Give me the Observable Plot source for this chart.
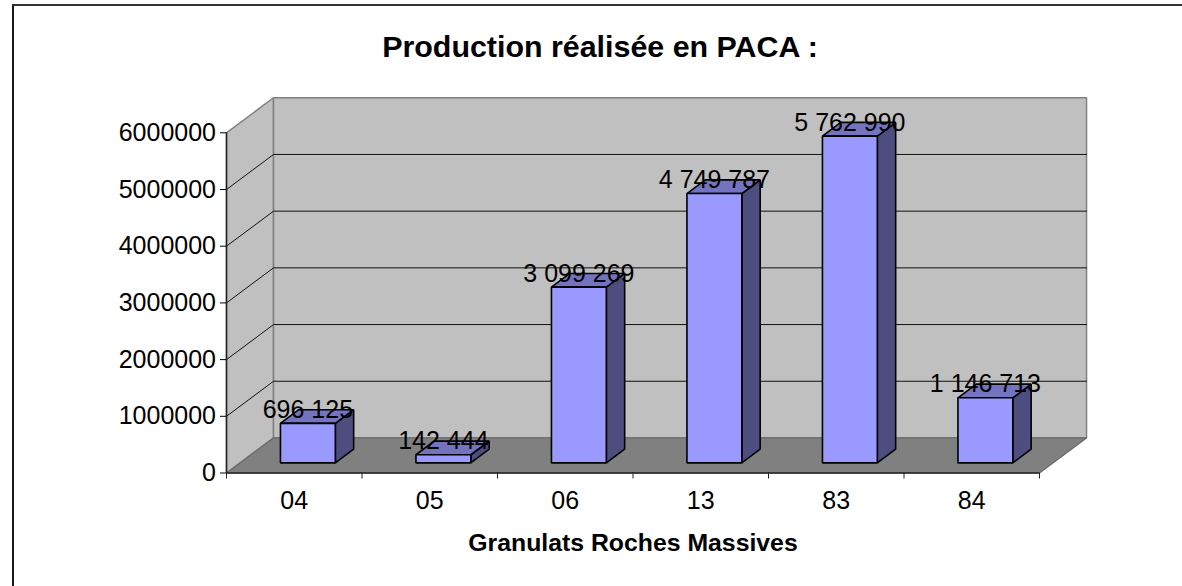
<!DOCTYPE html>
<html>
<head>
<meta charset="utf-8">
<style>
html,body{margin:0;padding:0;background:#fff;overflow:hidden}
#frame{position:absolute;left:12px;top:4px;right:0;bottom:0;border-left:2px solid #1a1a1a;border-top:2px solid #333;pointer-events:none}
svg{display:block}
</style>
<script src="https://cdn.jsdelivr.net/npm/d3@7"></script>
<script src="https://cdn.jsdelivr.net/npm/@observablehq/plot@0.6"></script>
</head>
<body>
<div id="frame"></div>
<div id="chart"></div>
<script>
const categories = ["04","05","06","13","83","84"];
const values = [696125,142444,3099269,4749787,5762990,1146713];
const yTicks = [0,1000000,2000000,3000000,4000000,5000000,6000000];
const gridValues = yTicks.slice(1,-1);
const titleText = "Production réalisée en PACA :";
const xTitle = "Granulats Roches Massives";

// oblique projection: depth z (0 = front plane, 1 = back wall) expressed in data units
const shearX = 0.347, shearY = 618000;
const barWidth = 0.405, zFront = 0.29, zBack = 0.68;
const P = (x,v,z) => ({x:x+z*shearX, y:v+z*shearY});
const poly = (id,pts) => pts.map(([x,v,z]) => ({id,...P(x,v,z)}));
const n = categories.length, maxV = yTicks[yTicks.length-1];

const sideWall = poly("side",[[0,0,0],[0,0,1],[0,maxV,1],[0,maxV,0]]);
const backWall = poly("back",[[0,0,1],[n,0,1],[n,maxV,1],[0,maxV,1]]);
const floorFace = poly("floor",[[0,0,0],[n,0,0],[n,0,1],[0,0,1]]);
const grid = gridValues.flatMap(v => poly(v,[[0,v,0],[0,v,1],[n,v,1]]));

const fronts=[],tops=[],sides=[];
values.forEach((v,i)=>{
  const a=i+0.5-barWidth/2,b=i+0.5+barWidth/2;
  fronts.push(...poly(i,[[a,0,zFront],[b,0,zFront],[b,v,zFront],[a,v,zFront]]));
  tops.push(...poly(i,[[a,v,zFront],[b,v,zFront],[b,v,zBack],[a,v,zBack]]));
  sides.push(...poly(i,[[b,0,zFront],[b,0,zBack],[b,v,zBack],[b,v,zFront]]));
});
const labels = values.map((v,i)=>({...P(i+0.5,v,zFront),text:String(v).replace(/\B(?=(\d{3})+$)/g," ")}));
const face = (data,fill,stroke,strokeWidth) => Plot.line(data,{x:"x",y:"y",z:"id",curve:"linear-closed",fill,stroke,strokeWidth,strokeLinejoin:"miter"});

const plotEl = Plot.plot({
  width:1182,height:586,
  marginLeft:226,marginRight:143,marginTop:132.3,marginBottom:113.5,
  style:{fontFamily:"'Liberation Sans',Arial,sans-serif",background:"#fff",color:"#000",overflow:"visible"},
  x:{domain:[0,n]},
  y:{domain:[0,maxV]},
  marks:[
    face(sideWall,"#c0c0c0","#808080",1.5),
    face(backWall,"#c0c0c0","#808080",1.5),
    face(floorFace,"#808080","#6a6a6a",1.2),
    Plot.line(grid,{x:"x",y:"y",z:"id",stroke:"#111",strokeWidth:1}),
    face(sides,"#4d4d80","#000",1.6),
    face(tops,"#7373bf","#000",1.6),
    face(fronts,"#9999ff","#000",1.6),
    Plot.ruleX([0],{stroke:"#222",strokeWidth:1.5}),
    Plot.ruleY([0],{stroke:"#222",strokeWidth:1.5}),
    Plot.axisY({ticks:yTicks,tickFormat:d=>String(d),tickSize:6,tickPadding:4.5,fontSize:25,label:null,stroke:"#000"}),
    Plot.axisX({ticks:d3.range(n+1),tickFormat:()=>"",tickSize:6,label:null,stroke:"#222"}),
    Plot.axisX({ticks:categories.map((c,i)=>i+0.5),tickFormat:d=>categories[Math.floor(d)],tickSize:0,tickPadding:18,fontSize:25,label:null}),
    Plot.text(labels,{x:"x",y:"y",text:"text",dy:-5.5,lineAnchor:"bottom",textAnchor:"middle",fontSize:25,fill:"#000"}),
    Plot.text([titleText],{frameAnchor:"top",dx:-33,dy:-76,lineAnchor:"bottom",fontSize:30.4,fontWeight:"bold",fill:"#000"}),
    Plot.text([xTitle],{frameAnchor:"bottom",dy:78,lineAnchor:"bottom",fontSize:24.8,fontWeight:"bold",fill:"#000"})
  ]
});
document.getElementById("chart").append(plotEl);
</script>
</body>
</html>
